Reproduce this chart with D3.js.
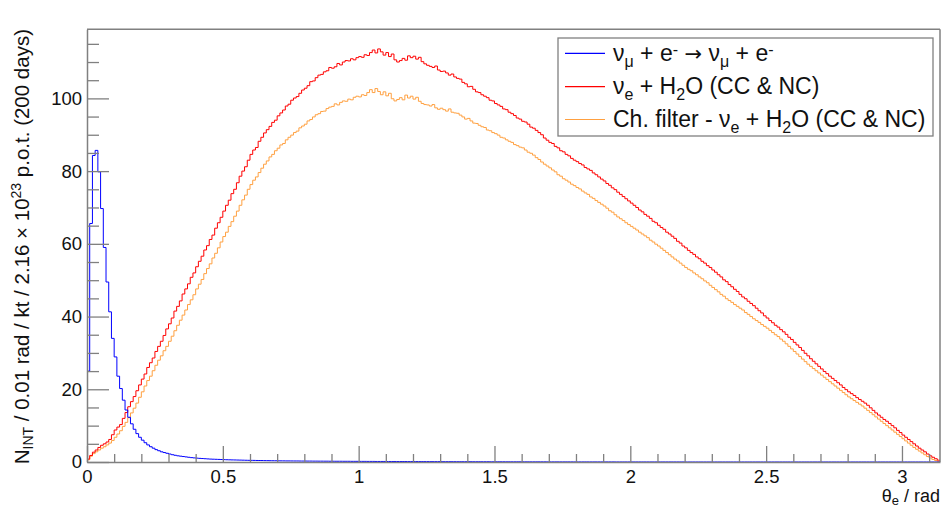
<!DOCTYPE html>
<html>
<head>
<meta charset="utf-8">
<script src="https://cdnjs.cloudflare.com/ajax/libs/d3/7.8.5/d3.min.js"></script>
<style>
  body { margin: 0; background: #fff; }
  svg { display: block; font-family: "Liberation Sans", Arial, Helvetica, sans-serif; }
</style>
</head>
<body>
<svg id="chart" width="941" height="507"></svg>
<script>
// bin width 0.01 rad, bins start at 0
var binWidth = 0.01;

// nu_mu + e- -> nu_mu + e-
var numuE = [
  25, 65.6, 84.3, 85.7, 79.8, 69.7, 59, 49.5, 41.3, 34,
  28.9, 23.6, 20.2, 17, 14.3, 12.3, 10.5, 9, 7.8, 6.8,
  6, 5.3, 4.7, 4.2, 3.8, 3.4, 3.1, 2.8, 2.6, 2.4,
  2.2, 2, 1.85, 1.7, 1.6, 1.5, 1.4, 1.3, 1.2, 1.13,
  1.06, 1, 0.95, 0.9, 0.85, 0.8, 0.77, 0.74, 0.71, 0.68,
  0.65, 0.62, 0.6, 0.58, 0.56, 0.54, 0.52, 0.5, 0.48, 0.46,
  0.45, 0.44, 0.42, 0.41, 0.4, 0.38, 0.37, 0.36, 0.35, 0.34,
  0.33, 0.32, 0.31, 0.3, 0.3, 0.29, 0.28, 0.28, 0.27, 0.26,
  0.26, 0.25, 0.25, 0.24, 0.24, 0.23, 0.23, 0.22, 0.22, 0.21,
  0.21, 0.2, 0.2, 0.2, 0.19, 0.19, 0.19, 0.18, 0.18, 0.18,
  0.17, 0.17, 0.17, 0.16, 0.16, 0.16, 0.15, 0.15, 0.15, 0.15,
  0.14, 0.14, 0.14, 0.14, 0.13, 0.13, 0.13, 0.13, 0.12, 0.12,
  0.12, 0.12, 0.11, 0.11, 0.11, 0.11, 0.1, 0.1, 0.1, 0.1,
  0.1, 0.09, 0.09, 0.09, 0.09, 0.09, 0.08, 0.08, 0.08, 0.08,
  0.08, 0.08, 0.07, 0.07, 0.07, 0.07, 0.07, 0.07, 0.06, 0.06,
  0.06, 0.06, 0.06, 0.06, 0.05, 0.05, 0.05, 0.05, 0.05, 0.05,
  0.05, 0.04, 0.04, 0.04, 0.04, 0.04, 0.04, 0.04, 0.04, 0.03,
  0.03, 0.03, 0.03, 0.03, 0.03, 0.03, 0.03, 0.03, 0.03, 0.02,
  0.02, 0.02, 0.02, 0.02, 0.02, 0.02, 0.02, 0.02, 0.02, 0.02,
  0.02, 0.02, 0.02, 0.02, 0.01, 0.01, 0.01, 0.01, 0.01, 0.01,
  0.01, 0.01, 0.01, 0.01, 0.01, 0.01, 0.01, 0.01, 0.01, 0.01,
  0.01, 0.01, 0.01, 0.01, 0.01, 0.01, 0.01, 0.01, 0.01, 0.01,
  0, 0, 0, 0, 0, 0, 0, 0, 0, 0,
  0, 0, 0, 0, 0, 0, 0, 0, 0, 0,
  0, 0, 0, 0, 0, 0, 0, 0, 0, 0,
  0, 0, 0, 0, 0, 0, 0, 0, 0, 0,
  0, 0, 0, 0, 0, 0, 0, 0, 0, 0,
  0, 0, 0, 0, 0, 0, 0, 0, 0, 0,
  0, 0, 0, 0, 0, 0, 0, 0, 0, 0,
  0, 0, 0, 0, 0, 0, 0, 0, 0, 0,
  0, 0, 0, 0, 0, 0, 0, 0, 0, 0,
  0, 0, 0, 0
];

// nu_e + H2O (CC & NC)
var nueH2O = [
  0.8, 1.8, 2.7, 3.3, 4.0, 4.6, 5.0, 5.5, 6.2, 7.5,
  8.8, 9.6, 10.3, 12.0, 13.6, 15.2, 16.6, 18.0, 19.6, 21.2,
  22.8, 24.2, 26.0, 27.3, 28.6, 30.4, 31.8, 33.2, 34.8, 36.6,
  38.0, 39.6, 41.5, 42.8, 44.3, 46.2, 47.6, 49.0, 50.8, 52.0,
  53.7, 55.2, 56.6, 58.3, 59.5, 61.2, 62.4, 64.3, 65.8, 67.3,
  69.0, 70.6, 72.0, 73.8, 75.0, 76.8, 78.6, 80.0, 81.2, 83.0,
  84.6, 85.8, 86.5, 88.2, 89.3, 90.5, 91.4, 92.3, 93.4, 94.0,
  95.2, 96.0, 96.8, 97.9, 98.4, 99.5, 100.1, 100.5, 101.4, 102.3,
  102.8, 103.5, 104.6, 104.8, 105.7, 106.4, 106.6, 107.3, 107.6, 108.5,
  108.3, 108.7, 109.6, 109.2, 110.0, 110.4, 110.3, 110.9, 110.6, 111.2,
  111.5, 111.3, 112.0, 111.8, 112.6, 113.3, 112.5, 113.6, 112.8, 111.9,
  112.6, 111.5, 112.2, 110.6, 110.0, 110.4, 111.0, 110.5, 111.7, 111.2,
  111.6, 110.8, 111.3, 110.1, 109.5, 109.1, 108.8, 108.5, 108.9, 107.8,
  107.4, 107.5, 107.0, 106.4, 106.7, 105.9, 105.5, 105.3, 104.4, 104.0,
  103.2, 103.3, 102.5, 101.8, 101.6, 101.0, 100.6, 100.2, 99.5, 99.3,
  98.6, 98.2, 97.8, 97.1, 96.9, 96.2, 95.8, 95.3, 94.6, 94.3,
  93.7, 93.5, 92.9, 92.1, 91.8, 91.2, 90.6, 90.0, 89.1, 88.5,
  87.9, 87.6, 86.8, 86.4, 85.6, 85.3, 84.6, 84.2, 83.5, 83.0,
  82.6, 82.1, 81.7, 81.0, 80.6, 80.2, 79.5, 79.0, 78.4, 77.8,
  77.3, 76.6, 76.1, 75.4, 74.9, 74.2, 73.6, 73.0, 72.4, 71.8,
  71.2, 70.6, 70.0, 69.3, 68.8, 68.1, 67.6, 67.0, 66.2, 65.8,
  65.1, 64.5, 64.0, 63.2, 62.7, 62.1, 61.5, 60.7, 60.2, 59.4,
  58.9, 58.2, 57.6, 57.1, 56.4, 55.9, 55.2, 54.7, 54.0, 53.5,
  52.8, 52.2, 51.5, 50.9, 50.1, 49.6, 48.8, 48.2, 47.5, 46.9,
  46.1, 45.4, 44.9, 44.2, 43.6, 43.0, 42.3, 41.6, 41.0, 40.2,
  39.6, 38.9, 38.3, 37.6, 37.1, 36.4, 35.8, 35.1, 34.3, 33.7,
  32.9, 32.2, 31.5, 30.7, 29.9, 29.2, 28.4, 27.7, 27.0, 26.3,
  25.6, 24.9, 24.3, 23.6, 23.0, 22.4, 21.8, 21.2, 20.5, 19.9,
  19.3, 18.8, 18.3, 17.7, 17.2, 16.7, 16.2, 15.6, 14.9, 14.2,
  13.5, 12.9, 12.3, 11.7, 11.2, 10.6, 10.0, 9.4, 8.7, 8.1,
  7.4, 6.8, 6.2, 5.6, 5.0, 4.4, 3.8, 3.3, 2.8, 2.2,
  1.7, 1.3, 0.9, 0.5
];

// Ch. filter - nu_e + H2O (CC & NC)
var nueFiltered = [
  0.6, 1.6, 2.3, 2.8, 3.3, 3.8, 4.2, 4.7, 5.2, 5.9,
  6.8, 7.7, 8.6, 9.8, 10.9, 12.2, 13.5, 14.8, 16.2, 17.8,
  19.3, 20.9, 22.4, 23.6, 25.1, 26.6, 28.0, 29.2, 30.6, 31.8,
  33.2, 34.6, 36.1, 37.6, 39.0, 40.4, 41.8, 43.3, 44.6, 46.0,
  47.6, 48.9, 50.2, 51.8, 53.2, 54.5, 56.1, 57.4, 58.9, 60.5,
  62.0, 63.2, 64.8, 66.1, 67.6, 69.0, 70.6, 72.1, 73.4, 75.0,
  76.3, 77.5, 78.4, 79.6, 80.8, 81.9, 82.8, 83.9, 84.6, 85.6,
  86.3, 87.2, 87.6, 88.6, 89.3, 89.9, 90.6, 91.0, 91.9, 92.4,
  92.9, 93.8, 94.2, 94.9, 95.5, 95.8, 96.4, 96.5, 97.2, 97.6,
  97.8, 98.5, 98.2, 98.9, 99.3, 99.2, 99.8, 99.6, 100.3, 100.6,
  100.4, 101.0, 100.8, 101.6, 102.4, 101.6, 102.7, 101.9, 101.0, 101.8,
  100.7, 101.4, 99.9, 99.3, 99.7, 100.2, 99.6, 100.9, 100.1, 100.6,
  99.8, 100.3, 99.2, 98.6, 98.3, 98.2, 97.9, 98.3, 97.4, 97.0,
  97.3, 96.9, 96.5, 97.1, 96.2, 96.0, 95.9, 95.4, 94.9, 94.3,
  94.5, 93.8, 93.2, 93.1, 92.6, 92.2, 92.0, 91.3, 91.1, 90.6,
  90.3, 89.9, 89.3, 89.1, 88.6, 88.2, 87.9, 87.3, 87.0, 86.6,
  86.4, 85.8, 85.2, 84.9, 84.4, 83.7, 83.2, 82.5, 81.9, 81.4,
  80.9, 80.3, 79.8, 79.0, 78.6, 77.9, 77.5, 77.0, 76.4, 76.0,
  75.5, 75.1, 74.5, 74.0, 73.6, 72.9, 72.5, 71.9, 71.4, 70.9,
  70.4, 69.8, 69.1, 68.7, 68.0, 67.4, 66.9, 66.4, 65.8, 65.3,
  64.8, 64.3, 63.8, 63.2, 62.7, 62.2, 61.7, 61.0, 60.5, 59.9,
  59.4, 58.8, 58.2, 57.6, 57.0, 56.4, 55.8, 55.3, 54.7, 54.1,
  53.5, 53.0, 52.6, 52.0, 51.5, 50.9, 50.4, 49.8, 49.3, 48.6,
  48.0, 47.4, 46.8, 46.1, 45.6, 44.9, 44.4, 43.9, 43.3, 42.8,
  42.3, 41.8, 41.1, 40.6, 40.0, 39.4, 38.9, 38.4, 37.8, 37.3,
  36.8, 36.2, 35.6, 35.0, 34.5, 33.8, 33.2, 32.5, 31.8, 31.1,
  30.4, 29.7, 29.0, 28.3, 27.6, 26.9, 26.3, 25.7, 25.1, 24.5,
  23.9, 23.3, 22.7, 22.1, 21.5, 20.9, 20.3, 19.7, 19.1, 18.5,
  17.9, 17.4, 16.9, 16.4, 15.9, 15.4, 14.8, 14.2, 13.6, 13.0,
  12.4, 11.8, 11.2, 10.6, 10.0, 9.4, 8.8, 8.2, 7.6, 7.0,
  6.4, 5.8, 5.2, 4.6, 4.0, 3.5, 3.0, 2.5, 2.0, 1.5,
  1.1, 0.7, 0.4, 0.1
];

var xMajorTicks = [0, 0.5, 1, 1.5, 2, 2.5, 3];
var xTickLabels = ["0", "0.5", "1", "1.5", "2", "2.5", "3"];
var yMajorTicks = [0, 20, 40, 60, 80, 100];
var yTickLabels = ["0", "20", "40", "60", "80", "100"];

var seriesColors = ["#0000ff", "#ff0000", "#ffa040"];

var svg = d3.select("#chart");
var padL = 87, padR = 940, padT = 29.3, padB = 462;

var x = d3.scaleLinear().domain([0, 3.14]).range([padL, padR]);
var y = d3.scaleLinear().domain([0, 119]).range([padB, padT]);

svg.append("rect").attr("width", 941).attr("height", 507).attr("fill", "#fff");

svg.append("clipPath").attr("id", "plotclip")
  .append("rect").attr("x", padL).attr("y", padT)
  .attr("width", padR - padL).attr("height", padB - padT);

// histogram outlines, drawn as steps
function stepPoints(vals) {
  var pts = [[0, 0]];
  vals.forEach(function (v, i) { pts.push([i * binWidth, v]); });
  pts.push([vals.length * binWidth, vals[vals.length - 1]]);
  pts.push([vals.length * binWidth, 0]);
  return pts;
}
var line = d3.line()
  .x(function (d) { return x(d[0]); })
  .y(function (d) { return y(d[1]); })
  .curve(d3.curveStepAfter);

var plot = svg.append("g").attr("clip-path", "url(#plotclip)");
[[nueFiltered, 2], [nueH2O, 1], [numuE, 0]].forEach(function (s) {
  plot.append("path")
    .attr("d", line(stepPoints(s[0])))
    .attr("fill", "none")
    .attr("stroke", seriesColors[s[1]])
    .attr("stroke-width", 1);
});

// frame
var frameCol = "#808080";
svg.append("line").attr("x1", padL).attr("x2", padR).attr("y1", padT).attr("y2", padT)
  .attr("stroke", frameCol).attr("stroke-width", 1.5);
svg.append("line").attr("x1", padR).attr("x2", padR).attr("y1", padT).attr("y2", padB)
  .attr("stroke", frameCol).attr("stroke-width", 1.5);

// x axis
svg.append("g").attr("transform", "translate(0," + padB + ")")
  .call(d3.axisBottom(x).tickValues(xMajorTicks)
    .tickFormat(function (d, i) { return xTickLabels[i]; })
    .tickSizeInner(-16).tickSizeOuter(0).tickPadding(8));
svg.append("g").attr("transform", "translate(0," + padB + ")")
  .call(d3.axisBottom(x).tickValues(d3.range(1, 32).map(function (i) { return i / 10; })
    .filter(function (v) { return Math.abs(v * 2 - Math.round(v * 2)) > 1e-6; }))
    .tickFormat("").tickSizeInner(-8).tickSizeOuter(0))
  .select(".domain").remove();

// y axis
svg.append("g").attr("transform", "translate(" + padL + ",0)")
  .call(d3.axisLeft(y).tickValues(yMajorTicks)
    .tickFormat(function (d, i) { return yTickLabels[i]; })
    .tickSizeInner(-22).tickSizeOuter(0).tickPadding(5));
svg.append("g").attr("transform", "translate(" + padL + ",0)")
  .call(d3.axisLeft(y).tickValues(d3.range(1, 24).map(function (i) { return i * 5; })
    .filter(function (v) { return v % 20 !== 0; }))
    .tickFormat("").tickSizeInner(-12).tickSizeOuter(0))
  .select(".domain").remove();

svg.selectAll(".domain").attr("stroke", frameCol).attr("stroke-width", 1.5);
svg.selectAll(".tick line").attr("stroke", frameCol).attr("stroke-width", 1.3);
svg.selectAll(".tick text").attr("fill", "#111").attr("font-size", 18.5)
  .attr("font-family", "Liberation Sans, Arial, sans-serif");

// axis titles
var xt = svg.append("text").attr("x", 940).attr("y", 501.5)
  .attr("text-anchor", "end").attr("font-size", 18).attr("fill", "#111");
xt.append("tspan").text("\u03b8");
xt.append("tspan").attr("font-size", 13).attr("dy", 3).text("e");
xt.append("tspan").attr("dy", -3).text(" / rad");

var yt = svg.append("text").attr("transform", "translate(28.5,29) rotate(-90)")
  .attr("text-anchor", "end").attr("font-size", 20.5).attr("fill", "#111");
yt.append("tspan").text("N");
yt.append("tspan").attr("font-size", 14).attr("dy", 4).text("INT");
yt.append("tspan").attr("dy", -4).text(" / 0.01 rad / kt / 2.16 \u00d7 10");
yt.append("tspan").attr("font-size", 14).attr("dy", -8).text("23");
yt.append("tspan").attr("dy", 8).text(" p.o.t. (200 days)");

// legend
svg.append("rect").attr("x", 558).attr("y", 38).attr("width", 375).attr("height", 98)
  .attr("fill", "#fff").attr("stroke", "#808080").attr("stroke-width", 1.3);

// [text, baseline offset (1 = sub, -1 = sup), font override]
var legendRows = [
  [["\u03bd", 0], ["\u03bc", 1], [" + e", 0], ["-", -1], [" ", 0], ["\u2192", 0, "DejaVu Sans"], [" \u03bd", 0], ["\u03bc", 1], [" + e", 0], ["-", -1]],
  [["\u03bd", 0], ["e", 1], [" + H", 0], ["2", 1], ["O (CC & NC)", 0]],
  [["Ch. filter - \u03bd", 0], ["e", 1], [" + H", 0], ["2", 1], ["O (CC & NC)", 0]]
];
var legendY = [53.3, 86.7, 119.5];

legendRows.forEach(function (parts, r) {
  svg.append("line").attr("x1", 565).attr("x2", 605)
    .attr("y1", legendY[r]).attr("y2", legendY[r])
    .attr("stroke", seriesColors[r]).attr("stroke-width", 1.2);
  var t = svg.append("text").attr("x", 613).attr("y", legendY[r] + 7.5)
    .attr("font-size", 23).attr("fill", "#111");
  var shift = 0;
  parts.forEach(function (p) {
    var target = p[1] * 6;
    var ts = t.append("tspan").text(p[0]).attr("dy", target - shift);
    if (p[1] !== 0) ts.attr("font-size", 16);
    if (p[2]) ts.attr("font-family", p[2]).attr("font-size", 21);
    shift = target;
  });
});
</script>
</body>
</html>
